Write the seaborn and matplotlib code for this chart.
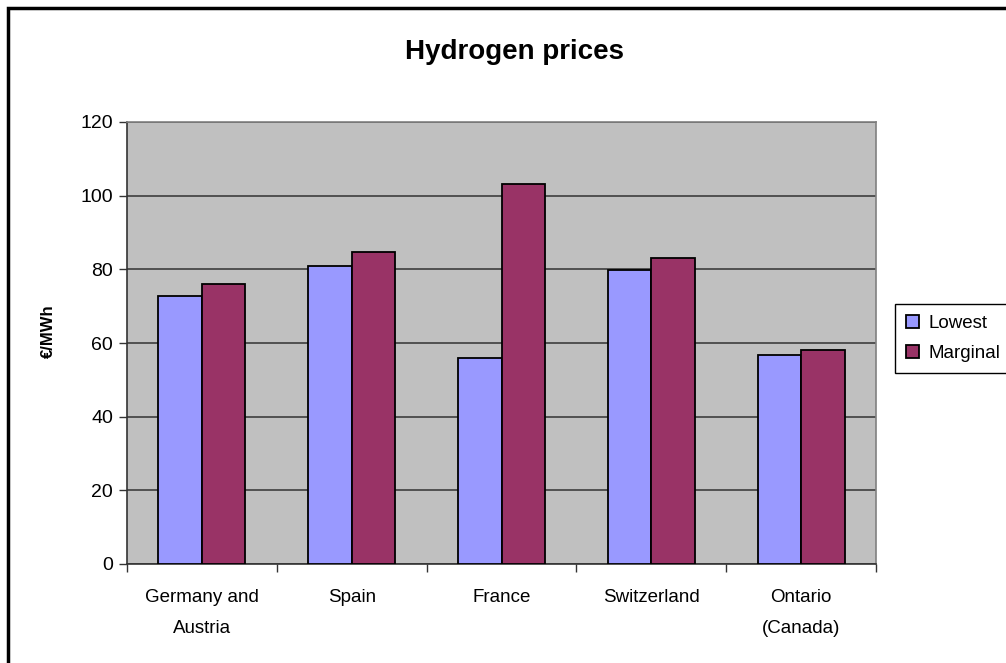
import matplotlib
matplotlib.use("Agg")
import matplotlib.pyplot as plt
import pandas as pd
import seaborn as sns
from matplotlib.patches import Rectangle

# Data
regions = ["Germany and\nAustria", "Spain", "France", "Switzerland", "Ontario\n(Canada)"]
lowest = [72.8, 80.8, 56.0, 79.9, 56.7]
marginal = [76.0, 84.8, 103.3, 83.1, 58.2]
series_names = ["Lowest", "Marginal"]
colors = ["#9999FF", "#993366"]

df = pd.DataFrame({
    "region": regions * 2,
    "price": lowest + marginal,
    "series": [series_names[0]] * len(regions) + [series_names[1]] * len(regions),
})

sns.set_theme(style="white")
plt.rcParams["font.family"] = ["Liberation Sans", "DejaVu Sans"]
plt.rcParams["text.color"] = "black"
plt.rcParams["xtick.color"] = "black"
plt.rcParams["ytick.color"] = "black"
plt.rcParams["axes.labelcolor"] = "black"

fig = plt.figure(figsize=(10.06, 6.63), dpi=100)
ax = fig.add_axes([127 / 1006, 1 - 564 / 663, (876 - 127) / 1006, (564 - 122) / 663])
ax.set_facecolor("#C0C0C0")

sns.barplot(
    data=df, x="region", y="price", hue="series",
    palette=colors, width=0.58, edgecolor="black", linewidth=1.3,
    saturation=1, ax=ax, zorder=3,
)

ax.set_ylim(0, 120)
ax.set_yticks(range(0, 121, 20))
ax.set_xlim(-0.5, len(regions) - 0.5)
ax.yaxis.grid(True, color="#333333", linewidth=1.1, zorder=0)
ax.set_axisbelow(True)

# ticks: labels at group centres, tick marks at group boundaries
ax.tick_params(axis="x", which="major", length=0, pad=18, labelsize=13.5)
ax.set_xticks([i - 0.5 for i in range(len(regions) + 1)], minor=True)
ax.tick_params(axis="x", which="minor", length=6, width=1, color="#333333", bottom=True)
ax.tick_params(axis="y", length=6, width=1, color="#333333", left=True, pad=4, labelsize=14)
for lbl in ax.get_xticklabels():
    lbl.set_linespacing(2.1)

for side in ["top", "right"]:
    ax.spines[side].set_color("#808080")
    ax.spines[side].set_linewidth(1.2)
for side in ["left", "bottom"]:
    ax.spines[side].set_color("#333333")
    ax.spines[side].set_linewidth(1.2)

ax.set_xlabel("")
ax.set_ylabel("€/MWh", fontsize=12, fontweight="bold")
ax.yaxis.set_label_coords(-0.095, 0.527)

fig.text(0.511, 1 - 52 / 663, "Hydrogen prices", ha="center", va="center",
         fontsize=20, fontweight="bold")

handles, labels = ax.get_legend_handles_labels()
ax.legend_.remove()
fig.legend(
    handles, labels, loc="upper left",
    bbox_to_anchor=(895 / 1006, 1 - 304 / 663), borderaxespad=0,
    frameon=True, fancybox=False, edgecolor="black", framealpha=1,
    fontsize=13.5, handlelength=0.7, handleheight=0.7, handletextpad=0.5,
    borderpad=0.6, labelspacing=0.65,
).get_frame().set_linewidth(1.0)

# outer chart border (clipped at the right and bottom like the reference)
fig.patches.append(Rectangle((7.5 / 1006, -0.2), 1.3, 1.2 - 8 / 663,
                             transform=fig.transFigure, fill=False,
                             edgecolor="black", linewidth=2.5))

fig.savefig("out.png", dpi=100)
